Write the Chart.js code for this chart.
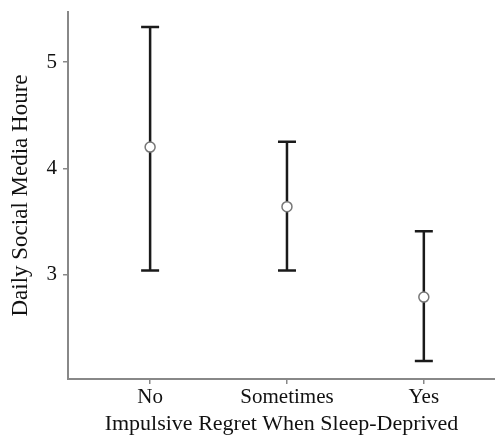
<!DOCTYPE html>
<html>
<head>
<meta charset="utf-8">
<script src="https://cdn.jsdelivr.net/npm/chart.js@4"></script>
<style>
html, body { margin: 0; padding: 0; background: #fff; overflow: hidden; }
canvas { display: block; }
</style>
</head>
<body>
<canvas id="errChart" width="495" height="443"></canvas>
<script>
const categories = ["No", "Sometimes", "Yes"];
const means = [4.2, 3.64, 2.79];
const lower = [3.04, 3.04, 2.19];
const upper = [5.33, 4.25, 3.41];
const yTicks = [3, 4, 5];

const serif = "'Liberation Serif', 'Times New Roman', serif";

// error bars drawn from the data through the chart scales
const errorBars = {
  id: "errorBars",
  beforeDatasetsDraw(chart) {
    const ctx = chart.ctx;
    const xs = chart.scales.x, ys = chart.scales.y;
    ctx.save();
    ctx.strokeStyle = "#1a1a1a";
    ctx.lineWidth = 2.5;
    categories.forEach((c, i) => {
      const x = xs.getPixelForValue(i);
      const yl = ys.getPixelForValue(lower[i]);
      const yu = ys.getPixelForValue(upper[i]);
      ctx.beginPath();
      ctx.moveTo(x, yl); ctx.lineTo(x, yu);
      ctx.moveTo(x - 9, yl); ctx.lineTo(x + 9, yl);
      ctx.moveTo(x - 9, yu); ctx.lineTo(x + 9, yu);
      ctx.stroke();
    });
    ctx.restore();
  }
};

new Chart(document.getElementById("errChart"), {
  type: "scatter",
  data: {
    datasets: [{
      data: categories.map((c, i) => ({ x: i, y: means[i] })),
      pointRadius: 5,
      pointBackgroundColor: "#fff",
      pointBorderColor: "#777",
      pointBorderWidth: 1.5
    }]
  },
  plugins: [errorBars],
  options: {
    responsive: false,
    animation: false,
    layout: { autoPadding: false, padding: { top: 12, right: 0, left: 0, bottom: 0 } },
    plugins: { legend: { display: false }, tooltip: { enabled: false } },
    scales: {
      x: {
        type: "linear",
        min: -0.6,
        max: 2.52,
        afterFit(s) { s.height = 64; s.paddingLeft = 0; s.paddingRight = 0; },
        ticks: {
          stepSize: 1,
          includeBounds: false,
          callback: v => categories[v],
          color: "#111",
          font: { family: serif, size: 21 },
          padding: 1
        },
        grid: { drawOnChartArea: false, drawTicks: true, tickLength: 5, color: "#888", lineWidth: 1.5 },
        border: { display: true, color: "#888", width: 2 },
        title: {
          display: true,
          text: "Impulsive Regret When Sleep-Deprived",
          color: "#111",
          font: { family: serif, size: 22 },
          padding: { top: 2, bottom: 6 }
        }
      },
      y: {
        min: 2.02,
        max: 5.47,
        afterFit(s) { s.width = 68; s.paddingTop = 0; s.paddingBottom = 0; },
        afterBuildTicks(s) { s.ticks = yTicks.map(v => ({ value: v })); },
        ticks: {
          color: "#111",
          font: { family: serif, size: 21 },
          padding: 6
        },
        grid: { drawOnChartArea: false, drawTicks: true, tickLength: 5, color: "#888", lineWidth: 1.5 },
        border: { display: true, color: "#888", width: 2 },
        title: {
          display: true,
          text: "Daily Social Media Houre",
          color: "#111",
          font: { family: serif, size: 23 },
          padding: { top: 7, bottom: 4 }
        }
      }
    }
  }
});
</script>
</body>
</html>
